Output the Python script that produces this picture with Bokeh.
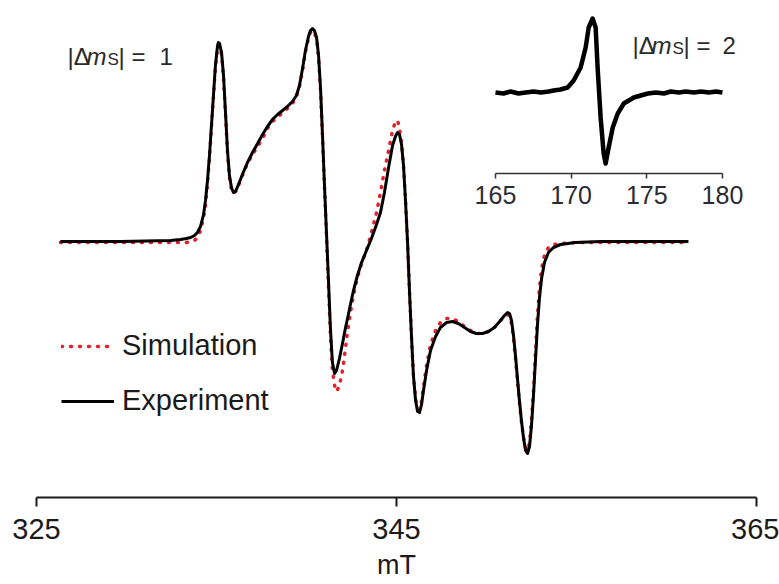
from bokeh.plotting import figure
from bokeh.models import Range1d, LinearAxis, FixedTicker, Legend, LegendItem, Label
from bokeh.embed import file_html
from bokeh.resources import INLINE

# ---- EPR spectrum, |Δm_S| = 1 region (field in mT, intensity in arbitrary units)
field_mT = [
    326.33, 329.67, 332.44, 333.00, 333.33, 333.56, 333.78, 333.94, 334.11, 334.28,
    334.39, 334.50, 334.61, 334.72, 334.83, 334.94, 335.06, 335.11, 335.17, 335.28,
    335.39, 335.50, 335.61, 335.72, 335.83, 335.94, 336.06, 336.22, 336.44, 336.72,
    337.00, 337.28, 337.56, 337.83, 338.11, 338.39, 338.67, 338.94, 339.22, 339.44,
    339.61, 339.78, 339.94, 340.11, 340.22, 340.33, 340.44, 340.56, 340.67, 340.78,
    340.89, 341.00, 341.11, 341.22, 341.33, 341.44, 341.56, 341.67, 341.83, 342.00,
    342.17, 342.28, 342.44, 342.61, 342.83, 343.06, 343.33, 343.61, 343.89, 344.11,
    344.33, 344.56, 344.78, 344.94, 345.06, 345.17, 345.28, 345.39, 345.50, 345.61,
    345.72, 345.83, 345.94, 346.06, 346.17, 346.28, 346.39, 346.50, 346.67, 346.89,
    347.17, 347.44, 347.78, 348.11, 348.44, 348.78, 349.11, 349.44, 349.78, 350.11,
    350.44, 350.78, 351.00, 351.17, 351.28, 351.39, 351.50, 351.61, 351.72, 351.83,
    351.94, 352.06, 352.17, 352.28, 352.39, 352.50, 352.61, 352.72, 352.83, 352.94,
    353.06, 353.22, 353.44, 353.72, 354.11, 354.94, 356.33, 358.56, 361.22,
]

experiment = [
    0.0, 0.0, 0.1, 0.2, 0.3, 0.4, 0.6, 0.9, 1.5, 2.7,
    4.1, 6.1, 8.6, 11.6, 14.6, 17.6, 19.6, 19.9, 19.8, 18.9,
    16.6, 12.9, 9.1, 6.6, 5.4, 4.9, 5.0, 5.7, 6.7, 7.9,
    8.9, 9.8, 10.7, 11.5, 12.2, 12.7, 13.1, 13.5, 14.0, 14.6,
    15.6, 17.3, 19.1, 20.5, 21.1, 21.3, 21.1, 20.4, 18.6, 15.3,
    10.6, 5.6, 0.9, -3.9, -8.7, -12.1, -13.2, -12.9, -11.7, -10.2,
    -8.6, -7.7, -6.3, -4.9, -3.4, -2.1, -0.9, 0.3, 1.7, 2.9,
    4.9, 7.4, 9.6, 10.5, 10.9, 10.7, 9.7, 7.6, 4.1, 0.1,
    -4.9, -9.4, -13.4, -15.9, -17.0, -17.1, -16.3, -14.9, -12.9, -10.9,
    -9.5, -8.6, -8.1, -8.0, -8.2, -8.6, -9.0, -9.2, -9.2, -9.0,
    -8.6, -7.9, -7.4, -7.1, -7.2, -7.9, -9.4, -11.4, -13.7, -15.9,
    -17.9, -19.7, -20.9, -21.2, -20.5, -18.4, -15.4, -11.9, -8.4, -5.7,
    -3.7, -2.1, -1.1, -0.6, -0.3, -0.1, 0.0, 0.0, 0.0,
]

simulation = [
    -0.1, -0.1, -0.1, -0.1, -0.1, 0.0, 0.1, 0.4, 1.1, 2.3,
    3.7, 5.8, 8.4, 11.4, 14.4, 17.4, 19.4, 19.7, 19.6, 18.7,
    16.4, 12.7, 8.9, 6.4, 5.2, 4.8, 5.0, 5.6, 6.6, 7.8,
    8.7, 9.5, 10.3, 11.3, 12.0, 12.4, 12.9, 13.3, 13.8, 14.5,
    15.5, 17.1, 18.9, 20.3, 20.9, 21.1, 20.9, 20.2, 18.4, 15.1,
    10.4, 5.4, 0.6, -4.4, -9.4, -12.9, -14.4, -15.0, -14.4, -12.9,
    -10.6, -9.0, -7.1, -5.4, -3.6, -2.2, -0.9, 0.9, 2.9, 4.9,
    7.1, 9.1, 11.1, 12.0, 12.1, 11.3, 9.8, 7.6, 4.1, 0.1,
    -4.9, -9.4, -13.4, -15.7, -16.7, -16.8, -16.0, -14.5, -12.4, -10.3,
    -8.9, -8.1, -7.7, -7.7, -8.0, -8.5, -8.9, -9.2, -9.2, -9.0,
    -8.6, -7.9, -7.5, -7.3, -7.5, -8.2, -9.7, -11.7, -13.9, -16.1,
    -18.0, -19.6, -20.6, -20.9, -20.1, -17.9, -14.9, -11.1, -7.4, -4.7,
    -2.7, -1.4, -0.6, -0.3, -0.2, -0.1, -0.1, -0.1, -0.1,
]

# ---- half-field transition, |Δm_S| = 2 (inset)
inset_field = [
    165.00, 165.53, 166.00, 166.52, 167.00, 167.52, 168.00, 168.51, 168.84, 169.30,
    169.77, 170.17, 170.63, 170.96, 171.16, 171.42, 171.62, 171.75, 171.95, 172.15,
    172.28, 172.48, 172.75, 173.08, 173.48, 174.14, 175.07, 175.60, 176.13, 176.59,
    177.12, 177.58, 178.11, 178.58, 179.11, 179.57, 180.00,
]
inset_intensity = [
    0.0, -0.1, 0.1, -0.1, 0.0, 0.1, 0.0, 0.1, 0.2, 0.3,
    0.5, 1.2, 2.5, 4.5, 6.5, 7.4, 6.5, 2.5, -2.5, -6.1,
    -7.1, -5.5, -3.5, -2.1, -1.1, -0.5, -0.1, 0.0, -0.1, 0.1,
    0.0, 0.1, 0.0, 0.1, 0.0, 0.1, 0.0,
]

main_ticks = [325, 345, 365]
inset_ticks = [165, 170, 175, 180]

FONT = "Liberation Sans"
INK = "#1a1a1a"

p = figure(
    width=779, height=584,
    x_range=Range1d(325, 365), y_range=Range1d(-25.6, 24.1),
    min_border_left=36, min_border_right=23, min_border_top=0, min_border_bottom=87,
    toolbar_location=None, output_backend="svg",
    x_axis_location=None, y_axis_location=None,
)
p.outline_line_color = None
for g in p.grid:
    g.visible = False

# inset coordinates share the same frame, with their own ranges
p.extra_x_ranges = {"inset_x": Range1d(134.67, 182.25)}
p.extra_y_ranges = {"inset_y": Range1d(-40.5, 9.2)}

# main field axis
ax = LinearAxis(ticker=FixedTicker(ticks=main_ticks), axis_label="mT")
ax.major_tick_out = 9
ax.major_tick_in = 0
ax.minor_tick_line_color = None
ax.axis_line_width = 2
ax.axis_line_color = INK
ax.major_tick_line_width = 2
ax.major_tick_line_color = INK
ax.major_label_text_font = FONT
ax.major_label_text_font_size = "29px"
ax.major_label_text_color = INK
ax.major_label_standoff = 12
ax.axis_label_text_font = FONT
ax.axis_label_text_font_size = "27px"
ax.axis_label_text_font_style = "normal"
ax.axis_label_text_color = INK
ax.axis_label_standoff = 8
p.add_layout(ax, "below")

# inset field axis, pinned inside the frame
iax = LinearAxis(
    x_range_name="inset_x", y_range_name="inset_y",
    fixed_location=-8.1, bounds=(165, 180),
    ticker=FixedTicker(ticks=inset_ticks),
)
iax.major_tick_out = 5
iax.major_tick_in = 0
iax.minor_tick_line_color = None
iax.axis_line_width = 1.5
iax.axis_line_color = "#333333"
iax.major_tick_line_width = 1.5
iax.major_tick_line_color = "#333333"
iax.major_label_text_font = FONT
iax.major_label_text_font_size = "25px"
iax.major_label_text_color = "#2b2b33"
iax.major_label_standoff = 7
p.add_layout(iax, "below")

sim_r = p.line(field_mT, simulation, line_color="#e5202a", line_width=3.5,
               line_dash="1 8", line_cap="round")
exp_r = p.line(field_mT, experiment, line_color="black", line_width=3, line_join="round")
p.line(inset_field, inset_intensity, x_range_name="inset_x", y_range_name="inset_y",
       line_color="black", line_width=4.5, line_join="round")

legend = Legend(
    items=[LegendItem(label="Simulation", renderers=[sim_r]),
           LegendItem(label="Experiment", renderers=[exp_r])],
    location=(25, 80), glyph_width=53, glyph_height=30, label_height=30,
    label_standoff=8, spacing=22, padding=0, margin=0,
    border_line_color=None, background_fill_alpha=0,
    label_text_font=FONT, label_text_font_size="29px", label_text_color=INK,
)
p.add_layout(legend)


def transition_label(x0, y0, order, order_dx):
    """|Δm_S| = n, built from pieces so that m is italic and S is a subscript."""
    pieces = [
        ("|Δ", 0, 0, "24px", "normal"),
        ("m", 19, 0, "24px", "italic"),
        ("S", 40, -3, "17px", "normal"),
        ("|", 51, 0, "24px", "normal"),
        ("=", 64, 0, "24px", "normal"),
        (order, order_dx, 0, "24px", "normal"),
    ]
    for text, dx, dy, size, style in pieces:
        p.add_layout(Label(
            x=x0 + dx, y=y0 + dy, x_units="screen", y_units="screen", text=text,
            text_font=FONT, text_font_size=size, text_font_style=style,
            text_color="#2a2a2a", text_baseline="alphabetic",
        ))


transition_label(31, 441, "1", 92)
transition_label(596, 452, "2", 90)

open("out.html", "w").write(file_html(p, INLINE))
